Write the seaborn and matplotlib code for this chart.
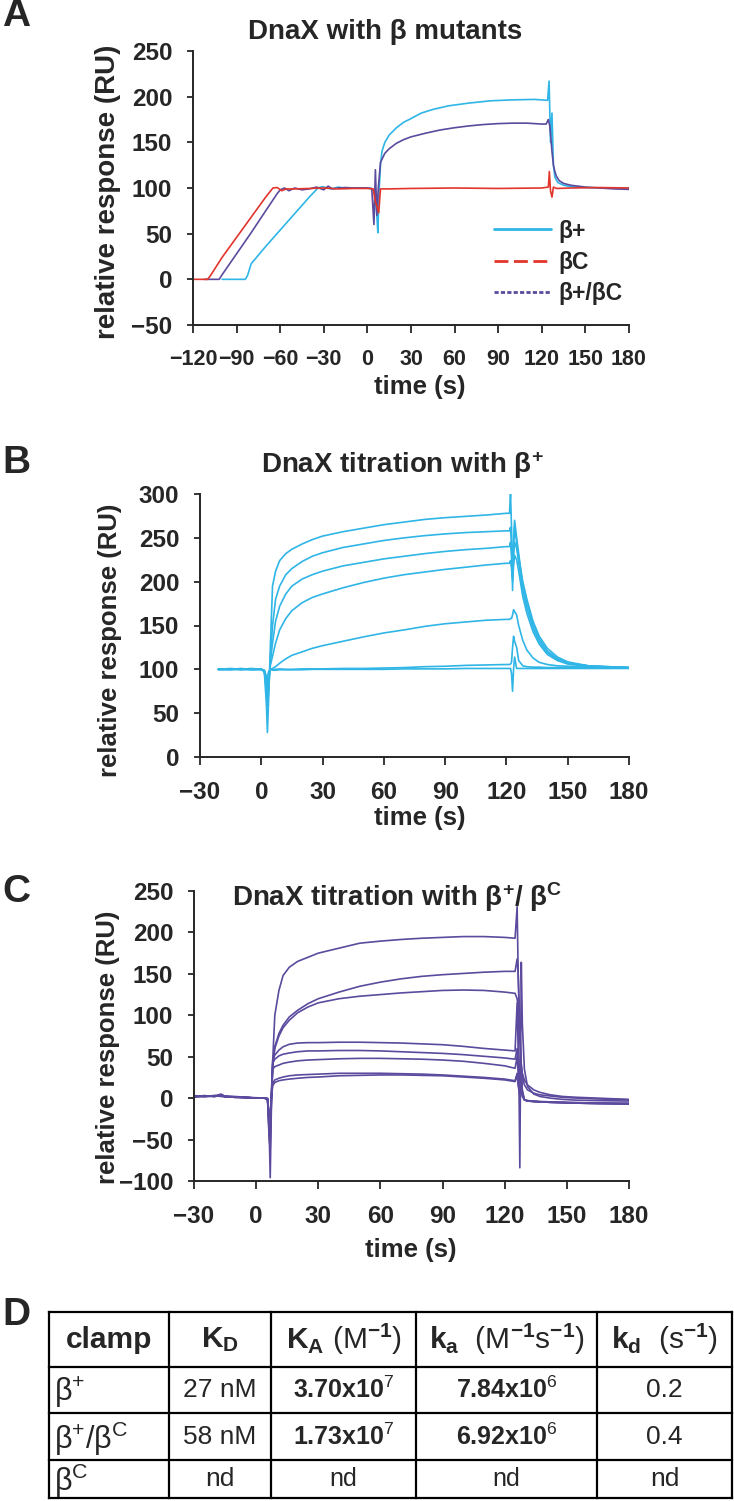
import numpy as np
import pandas as pd
import matplotlib
matplotlib.use('Agg')
import matplotlib.pyplot as plt
import seaborn as sns
from matplotlib.lines import Line2D

## Panel A: DnaX with beta mutants (time s, response RU)
bplus_t = [-100, -84, -82.5, -80, -70, -60, -50, -40, -34, -31, -25, -20, -15, -10, -5,
           0, 3, 5, 6.5, 7.2, 8, 9, 10, 12, 15, 20, 25, 30, 37, 45, 56, 70, 85, 100, 115,
           124, 125, 126, 127, 128, 129, 131, 135, 140, 150, 165, 180]
bplus_y = [0, 0, 4, 17, 36, 54, 72, 90, 100, 101.5, 99, 101, 99.5, 100, 100,
           100, 99, 96, 70, 51, 95, 125, 140, 150, 158, 166, 172, 176, 182, 186, 190, 193, 195.5, 196.5, 197,
           196, 217, 150, 182, 125, 112, 106, 103, 101.5, 100.5, 100, 100]

bc_t = [-120, -110, -108, -100, -90, -80, -70, -65, -62, -59, -56, -50, -40, -30, -20,
        -10, 0, 4, 5.5, 6.5, 7.8, 9, 15, 30, 60, 90, 120, 124.5, 125.2, 126, 127, 128, 130, 140, 160, 180]
bc_y = [0, 0, 4, 24, 46, 68, 90, 100, 100.5, 97, 99, 99, 99.5, 100, 99,
        99.5, 99.5, 99, 85, 80, 73, 99, 99, 99.5, 100, 99.5, 100, 101, 118, 97, 90, 101, 99.5, 100, 100.5, 100]

bpc_t = [-112, -102, -100, -90, -80, -70, -62, -60, -57, -54, -50, -45, -40, -35, -30,
         -27, -24, -20, -15, -10, 0, 3, 4.5, 5.5, 6.5, 7.5, 9, 12, 15, 20, 25, 30, 40, 50, 60,
         70, 80, 90, 100, 110, 120, 123, 124.5, 125.5, 127, 128, 129, 130, 132, 135,
         140, 150, 160, 170, 180]
bpc_y = [0, 0, 5, 28, 51, 75, 94, 98, 100, 97, 100, 98, 99, 101, 98,
         102, 99, 100, 100.5, 100, 100, 99.5, 60, 120, 70, 100, 128, 138, 143, 149, 153, 156, 160, 163.5, 166,
         168, 169.5, 170.5, 171, 171, 170, 170, 175, 168, 140, 125, 118, 113, 108, 105,
         103, 101, 100, 99, 98.5]

## Panel B: titration with beta+ (7 concentrations)
tB = [-21, -15, -10, -5, 0, 1.5, 2.5, 3, 3.5, 4.5, 5.5, 7, 9, 12, 15, 20, 25, 30, 40, 50,
      60, 70, 80, 90, 100, 110, 120, 121.5, 122, 122.5, 123, 123.5, 124, 125, 126,
      128, 130, 133, 136, 140, 145, 150, 160, 170, 180]
B1 = [100, 101, 100, 100.5, 100, 97, 60, 28, 60, 130, 195, 212, 224, 232, 237, 243, 248, 252, 257, 261,
      265, 268, 271, 273, 274.5, 276, 278, 278, 300, 262, 190, 240, 262, 245, 228,
      200, 180, 155, 138, 124, 114, 108.5, 104, 103, 102]
B2 = [100.5, 100, 101, 100, 100, 98, 75, 58, 70, 115, 150, 180, 195, 208, 215, 223, 229, 233, 239, 243,
      247, 250, 252.5, 254.5, 256, 257, 258, 258, 262, 240, 210, 250, 270, 250, 232,
      196, 176, 151, 135, 121, 112, 107.5, 104, 103, 102]
B3 = [99.5, 100, 100.5, 100, 100, 98, 80, 62, 80, 110, 130, 155, 172, 186, 195, 203, 208, 212, 218, 222,
      226, 229, 232, 234.5, 236.5, 238, 240, 240, 245, 228, 205, 230, 245, 238, 222,
      190, 170, 147, 132, 119, 111, 107, 104, 102.5, 102]
B4 = [100, 99.5, 100, 101, 100, 98, 82, 65, 85, 105, 115, 130, 145, 158, 167, 176, 182, 186, 193, 199,
      204, 208, 211, 214, 216.5, 219, 221, 221, 224, 215, 200, 218, 230, 225, 212,
      183, 164, 143, 129, 117, 110, 106, 103.5, 102.5, 102]
B5 = [100, 100.5, 99.5, 100, 100, 98, 85, 70, 90, 100, 101, 103, 107, 112, 116, 120, 124, 127, 132, 137,
      141.5, 145, 149, 152, 154, 156, 157, 157, 158, 158, 162, 168, 166, 162, 150,
      133, 122, 113, 108, 105.5, 104, 103.5, 103, 102.5, 102]
B6 = [100, 100, 100.5, 99.5, 100, 99, 90, 80, 95, 100, 100, 100, 100.5, 100, 100, 100.5, 100.5, 100.5, 101, 101,
      101.5, 102, 103, 103.5, 104.5, 105, 105.5, 105.5, 106, 108, 125, 137.7, 132, 125, 110,
      104, 103, 102.5, 102.5, 102, 102, 102, 102, 101.5, 101.5]
B7 = [100, 100.5, 100, 100, 100, 99, 92, 85, 97, 100, 99, 99, 99.5, 99.5, 99.5, 99.5, 100, 100, 100, 100,
      100, 100.5, 100.5, 100.5, 101, 101, 101, 101, 101, 95, 75, 100, 114, 101, 101,
      101, 101, 101, 101, 101, 101, 101, 101, 101, 101]

## Panel C: titration with beta+/betaC (8 concentrations)
tC = [-30, -25, -20, -17, -15, -10, -5, 0, 4, 5.5, 6.3, 6.8, 7.3, 8, 9, 11, 13, 16, 20, 25,
      30, 40, 50, 60, 70, 80, 90, 100, 110, 120, 125, 126, 126.5, 127.3, 128,
      128.5, 129.5, 131, 134, 137, 142, 148, 155, 165, 180]
C1 = [2, 3, 2, 5, 2, 2, 1, 0.5, 0, 0, -40, -96, -20, 45, 100, 130, 148, 158, 165, 170,
      175, 181, 187, 189.5, 191.5, 193, 194, 195, 195, 194, 193, 231, 150, 70, 40,
      30, 22, 16, 10, 7, 4, 2, 1, 0, -1.5]
C2 = [1, 2.5, 3, 2, 1.5, 1, 0.5, 0, 0, -1, -50, -60, -10, 40, 62, 78, 88, 98, 106, 114,
      120, 128, 135, 140, 144, 147, 149, 150.5, 152, 153, 153, 168, 150, 90, 40,
      28, 16, 10, 6, 4, 2.6, 1, 0, -1, -2]
C3 = [2, 2, 3, 3, 2, 1.5, 1, 0, 0, -1, -45, -50, -5, 40, 60, 75, 85, 94, 103, 110,
      115, 120, 123, 125, 127, 128.5, 130, 130.5, 130, 128, 126.5, 120, 110, -84, 164,
      90, 35, 14, 5, 2, 0, -1.5, -2.5, -3, -3.5]
C4 = [3, 2, 2.5, 3, 2, 1, 1, 0, 0, -1, -30, -40, 0, 46, 52, 58, 62, 65, 66.5, 67,
      67, 67.5, 67.5, 67, 66.5, 65.5, 64.5, 62.5, 60, 58, 57, 115, 60, 20, 32,
      10, -2, -3.5, -4, -4.5, -5, -5.5, -6, -6.5, -7]
C5 = [2, 3, 2, 4, 2.5, 1.5, 0.5, 0, 0, -1, -30, -35, 0, 42, 47, 51, 53, 54.5, 56, 57,
      57, 57.5, 57.5, 57, 56, 55, 54, 52.5, 50.5, 48.5, 47, 60, 40, 15, 30,
      8, -2, -3.5, -4, -4.5, -5, -5.5, -6, -6.5, -7]
C6 = [2.5, 2, 3, 3.5, 2, 1, 1, 0, 0, -1, -25, -30, 0, 35, 38, 40, 42, 43.5, 45, 46,
      46.5, 47.5, 48, 48, 47.5, 47, 46, 44.5, 42, 39, 36, 50, 30, 10, 28,
      5, -2, -3.5, -4, -4.5, -5, -5.5, -6, -6.5, -7]
C7 = [2, 2.5, 2, 3, 2, 1.5, 0.5, 0, 0, -1, -20, -25, 0, 18, 22, 24, 25.5, 27, 28, 28.5,
      29, 30, 30, 30, 29.5, 29, 28, 26.5, 25, 23, 21, 30, 18, 5, 25,
      3, -2, -3, -4, -4.5, -5, -5, -5.5, -6, -6.5]
C8 = [3, 2, 2.5, 4, 2, 1, 1, 0, 0, -1, -20, -25, 0, 15, 19, 21, 22, 23, 24, 25,
      25.5, 27, 27.5, 28, 28, 27.5, 27, 25.5, 24, 22, 20, 28, 15, 3, 20,
      2, -2, -3, -3.5, -4, -4.5, -5, -5.5, -6, -6]

## Panel D: kinetic constants
table_header = ['clamp', r'$\mathbf{K}_{\mathbf{D}}$', r'$\mathbf{K}_{\mathbf{A}}$ (M$^{\mathbf{-1}}$)',
                r'$\mathbf{k}_{\mathbf{a}}$  (M$^{\mathbf{-1}}$s$^{\mathbf{-1}}$)',
                r'$\mathbf{k}_{\mathbf{d}}$  (s$^{\mathbf{-1}}$)']
clamps = [r'$\mathrm{β}^{\mathrm{+}}$', r'$\mathrm{β}^{\mathrm{+}}\mathrm{/β}^{\mathrm{C}}$', r'$\mathrm{β}^{\mathrm{C}}$']
K_D = ['27 nM', '58 nM', 'nd']
K_A = ['3.70x10$^{7}$', '1.73x10$^{7}$', 'nd']
k_a = ['7.84x10$^{6}$', '6.92x10$^{6}$', 'nd']
k_d = ['0.2', '0.4', 'nd']

cyan, red, purple = '#2fb5e6', '#e2352c', '#5b4a9d'

sns.set_style('ticks')
plt.rcParams['font.family'] = ['Liberation Sans', 'DejaVu Sans']
plt.rcParams['font.weight'] = 'bold'
plt.rcParams['mathtext.fontset'] = 'custom'
plt.rcParams['mathtext.rm'] = 'Liberation Sans:weight=normal'
plt.rcParams['mathtext.bf'] = 'Liberation Sans:weight=bold'
plt.rcParams['mathtext.it'] = 'Liberation Sans:style=italic:weight=normal'

W, H = 734, 1501
fig = plt.figure(figsize=(W/100, H/100), dpi=100, facecolor='white')

def px_axes(l, t, r, b):
    return fig.add_axes([l/W, 1-b/H, (r-l)/W, (b-t)/H])

def style(ax, xticks, yticks, ylab_size, ylab_xy, xlab_xy, xtick_size=17.5):
    ax.set_xlim(xticks[0], xticks[-1])
    ax.set_ylim(yticks[0], yticks[-1])
    ax.set_xticks(xticks)
    ax.set_yticks(yticks)
    sns.despine(ax=ax)
    for s in ['left', 'bottom']:
        ax.spines[s].set_linewidth(1.4)
    ax.tick_params(axis='x', length=6, width=1.3, pad=11, labelsize=xtick_size)
    ax.tick_params(axis='y', length=4, width=1.3, pad=11, labelsize=17.5)
    ax.set_xlabel('time (s)', fontsize=18.5, fontweight='bold')
    ax.xaxis.set_label_coords(*xlab_xy)
    ax.xaxis.label.set_va('center')
    ax.set_ylabel('relative response (RU)', fontsize=ylab_size, fontweight='bold')
    ax.yaxis.set_label_coords(*ylab_xy)
    ax.yaxis.label.set_va('center')

## Panel A
axA = px_axes(193, 51, 629, 325)
dfA = pd.concat([pd.DataFrame({'time': bplus_t, 'response': bplus_y, 'clamp': 'β+'}),
                 pd.DataFrame({'time': bpc_t, 'response': bpc_y, 'clamp': 'β+/βC'}),
                 pd.DataFrame({'time': bc_t, 'response': bc_y, 'clamp': 'βC'})])
sns.lineplot(data=dfA, x='time', y='response', hue='clamp', hue_order=['β+', 'β+/βC', 'βC'],
             palette={'β+': cyan, 'βC': red, 'β+/βC': purple}, estimator=None, sort=False,
             lw=1.2, legend=False, ax=axA)
style(axA, list(range(-120, 181, 30)), list(range(-50, 251, 50)), 20, (-0.195, 0.485), (0.52, -0.226),
      xtick_size=15.5)
handles = [Line2D([], [], color=cyan, lw=2),
           Line2D([], [], color=red, lw=2, ls=(0, (5, 2))),
           Line2D([], [], color=purple, lw=2, ls=(0, (1.5, 0.8)))]
axA.legend(handles, ['β+', 'βC', 'β+/βC'], loc='upper left', bbox_to_anchor=(0.69, 0.385),
           frameon=False, fontsize=16.5, handlelength=2.5, handletextpad=0.3,
           labelspacing=0.35, borderpad=0, borderaxespad=0)

## Panel B
axB = px_axes(200, 494, 629, 757)
dfB = pd.concat([pd.DataFrame({'time': tB, 'response': v, 'conc': i}) for i, v in
                 enumerate([B1, B2, B3, B4, B5, B6, B7])])
sns.lineplot(data=dfB, x='time', y='response', units='conc', color=cyan, estimator=None,
             sort=False, lw=1.2, ax=axB)
style(axB, list(range(-30, 181, 30)), list(range(0, 301, 50)), 18.5, (-0.21, 0.445), (0.513, -0.232))

## Panel C
axC = px_axes(194, 891, 629, 1181)
dfC = pd.concat([pd.DataFrame({'time': tC, 'response': v, 'conc': i}) for i, v in
                 enumerate([C1, C2, C3, C4, C5, C6, C7, C8])])
sns.lineplot(data=dfC, x='time', y='response', units='conc', color=purple, estimator=None,
             sort=False, lw=1.2, ax=axC)
style(axC, list(range(-30, 181, 30)), list(range(-100, 251, 50)), 18.5, (-0.198, 0.462), (0.499, -0.238))

## Titles and panel letters
fig.text(385/W, 1-32/H, 'DnaX with β mutants', ha='center', va='center', fontsize=20, fontweight='bold')
fig.text(402/W, 1-465/H, r'DnaX titration with β$^{\mathbf{+}}$', ha='center', va='center',
         fontsize=20, fontweight='bold')
fig.text(397/W, 1-897/H, r'DnaX titration with β$^{\mathbf{+}}$/ β$^{\mathbf{C}}$', ha='center',
         va='center', fontsize=20, fontweight='bold')
for letter, yc in zip(['A', 'B', 'C', 'D'], [16, 463, 892, 1315]):
    fig.text(2/W, 1-yc/H, letter, ha='left', va='center', fontsize=28, fontweight='bold')

## Panel D table
axD = px_axes(49, 1312, 732, 1498)
axD.set_xlim(0, 1)
axD.set_ylim(1, 0)
axD.axis('off')
col_edges = [0, 0.1757, 0.325, 0.5373, 0.8023, 1]
row_edges = [0, 0.2957, 0.543, 0.796, 1]
for x in col_edges:
    axD.plot([x, x], [0, 1], color='black', lw=1.6, clip_on=False, solid_capstyle='projecting')
for y in row_edges:
    axD.plot([0, 1], [y, y], color='black', lw=1.6, clip_on=False, solid_capstyle='projecting')
xc = [(a + b) / 2 for a, b in zip(col_edges[:-1], col_edges[1:])]
yc = [(a + b) / 2 for a, b in zip(row_edges[:-1], row_edges[1:])]
for j, lab in enumerate(table_header):
    axD.text(xc[j], yc[0], lab, ha='center', va='center', fontsize=21.5,
             fontweight='bold' if j == 0 else 'normal')
for i in range(3):
    axD.text(0.008, yc[i + 1] + 0.01, clamps[i], ha='left', va='center', fontsize=22, fontweight='normal')
    axD.text(xc[1], yc[i + 1], K_D[i], ha='center', va='center', fontsize=19, fontweight='normal')
    axD.text(xc[2], yc[i + 1], K_A[i], ha='center', va='center', fontsize=18,
             fontweight='normal' if K_A[i] == 'nd' else 'bold')
    axD.text(xc[3], yc[i + 1], k_a[i], ha='center', va='center', fontsize=18,
             fontweight='normal' if k_a[i] == 'nd' else 'bold')
    axD.text(xc[4], yc[i + 1], k_d[i], ha='center', va='center', fontsize=19, fontweight='normal')

plt.savefig('out.png', dpi=100, facecolor='white')
